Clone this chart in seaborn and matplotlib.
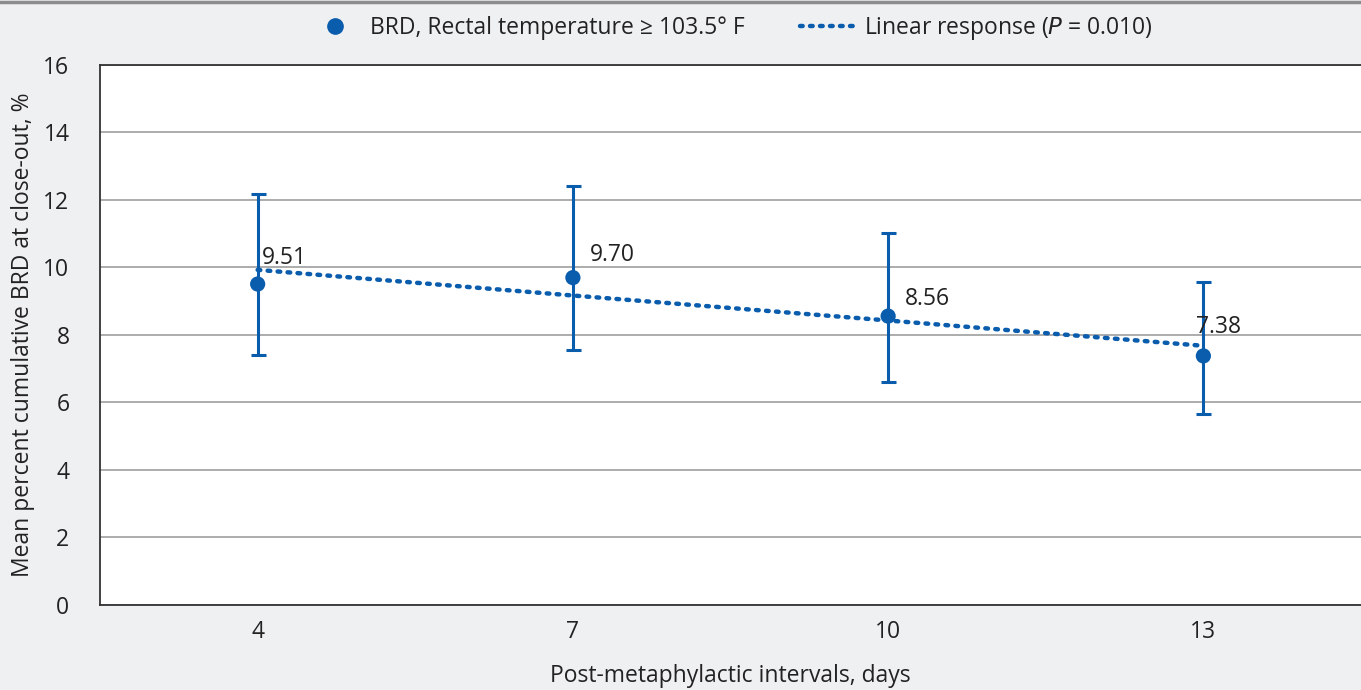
import matplotlib
matplotlib.use("Agg")
import matplotlib.pyplot as plt
from matplotlib.lines import Line2D
import seaborn as sns
import pandas as pd

# values
intervals = ["4", "7", "10", "13"]
brd_mean = [9.51, 9.70, 8.56, 7.38]
brd_upper = [12.17, 12.41, 11.01, 9.57]
brd_lower = [7.41, 7.56, 6.61, 5.66]
linear_fit = [9.93, 9.17, 8.43, 7.68]
y_ticks = [0, 2, 4, 6, 8, 10, 12, 14, 16]

# label nudges in points (dx, dy)
label_offsets = [(3, 10), (12, 8), (12, 4), (-5, 12)]

BLUE = "#0a5cad"
BG = "#eff0f2"
TXT = "#222222"
FS = 16.5

sns.set_theme(style="white")
plt.rcParams["font.family"] = ["Open Sans", "DejaVu Sans"]

df = pd.DataFrame({"interval": intervals, "mean": brd_mean,
                   "upper": brd_upper, "lower": brd_lower, "fit": linear_fit})
pos = list(range(len(intervals)))

fig = plt.figure(figsize=(13.61, 6.90), dpi=100, facecolor=BG)
ax = fig.add_axes([0.0735, 0.1232, 0.9265, 0.7826])
ax.set_facecolor("white")

# dotted linear response
sns.lineplot(x=pos, y=df["fit"], ax=ax, color=BLUE, lw=3.2,
             linestyle=(0, (0.6, 1.65)), dash_capstyle="round", zorder=3)

# error bars
yerr = [df["mean"] - df["lower"], df["upper"] - df["mean"]]
ax.errorbar(pos, df["mean"], yerr=yerr, fmt="none", ecolor=BLUE,
            elinewidth=2.2, capsize=5.4, capthick=2.2, zorder=4)

sns.scatterplot(x=pos, y=df["mean"], ax=ax, color=BLUE, s=120,
                edgecolor="none", zorder=5)

for i, v in enumerate(brd_mean):
    dx, dy = label_offsets[i]
    ax.annotate(f"{v:.2f}", (pos[i], v), xytext=(dx, dy),
                textcoords="offset points", fontsize=FS, color=TXT,
                ha="left", va="bottom", zorder=6)

ax.set_xlim(-0.5, 3.5)
ax.set_ylim(0, 16)
ax.set_xticks(pos)
ax.set_xticklabels(intervals)
ax.set_yticks(y_ticks)
ax.tick_params(axis="both", length=0, labelsize=FS, colors=TXT)
ax.tick_params(axis="x", pad=11)
ax.tick_params(axis="y", pad=22)
ax.yaxis.grid(True, color="#a6a6a6", lw=1.3)
ax.set_axisbelow(True)

for side in ["left", "bottom", "top"]:
    ax.spines[side].set_color("#333333")
    ax.spines[side].set_linewidth(1.3)
ax.spines["right"].set_visible(False)

ax.set_xlabel("Post-metaphylactic intervals, days", fontsize=FS,
              color=TXT, labelpad=14)
ax.set_ylabel("Mean percent cumulative BRD at close-out, %", fontsize=FS,
              color=TXT, labelpad=6)

handles = [
    Line2D([], [], marker="o", color=BLUE, linestyle="none", markersize=11),
    Line2D([], [], color=BLUE, lw=3.2, linestyle=(0, (0.6, 1.65)),
           dash_capstyle="round"),
]
labels = ["BRD, Rectal temperature \u2265 103.5\u00b0 F",
          "Linear response ($\\it{P}$ = 0.010)"]
fig.legend(handles, labels, loc="upper center", bbox_to_anchor=(0.536, 1.008),
           ncol=2, frameon=False, fontsize=FS, handlelength=2.5,
           columnspacing=2.45, handletextpad=0.26, labelcolor=TXT)

fig.add_artist(Line2D([0, 1], [0.997, 0.997], transform=fig.transFigure,
                      color="#8c8c8c", lw=2.5))

fig.savefig("out.png", dpi=100, facecolor=BG)
